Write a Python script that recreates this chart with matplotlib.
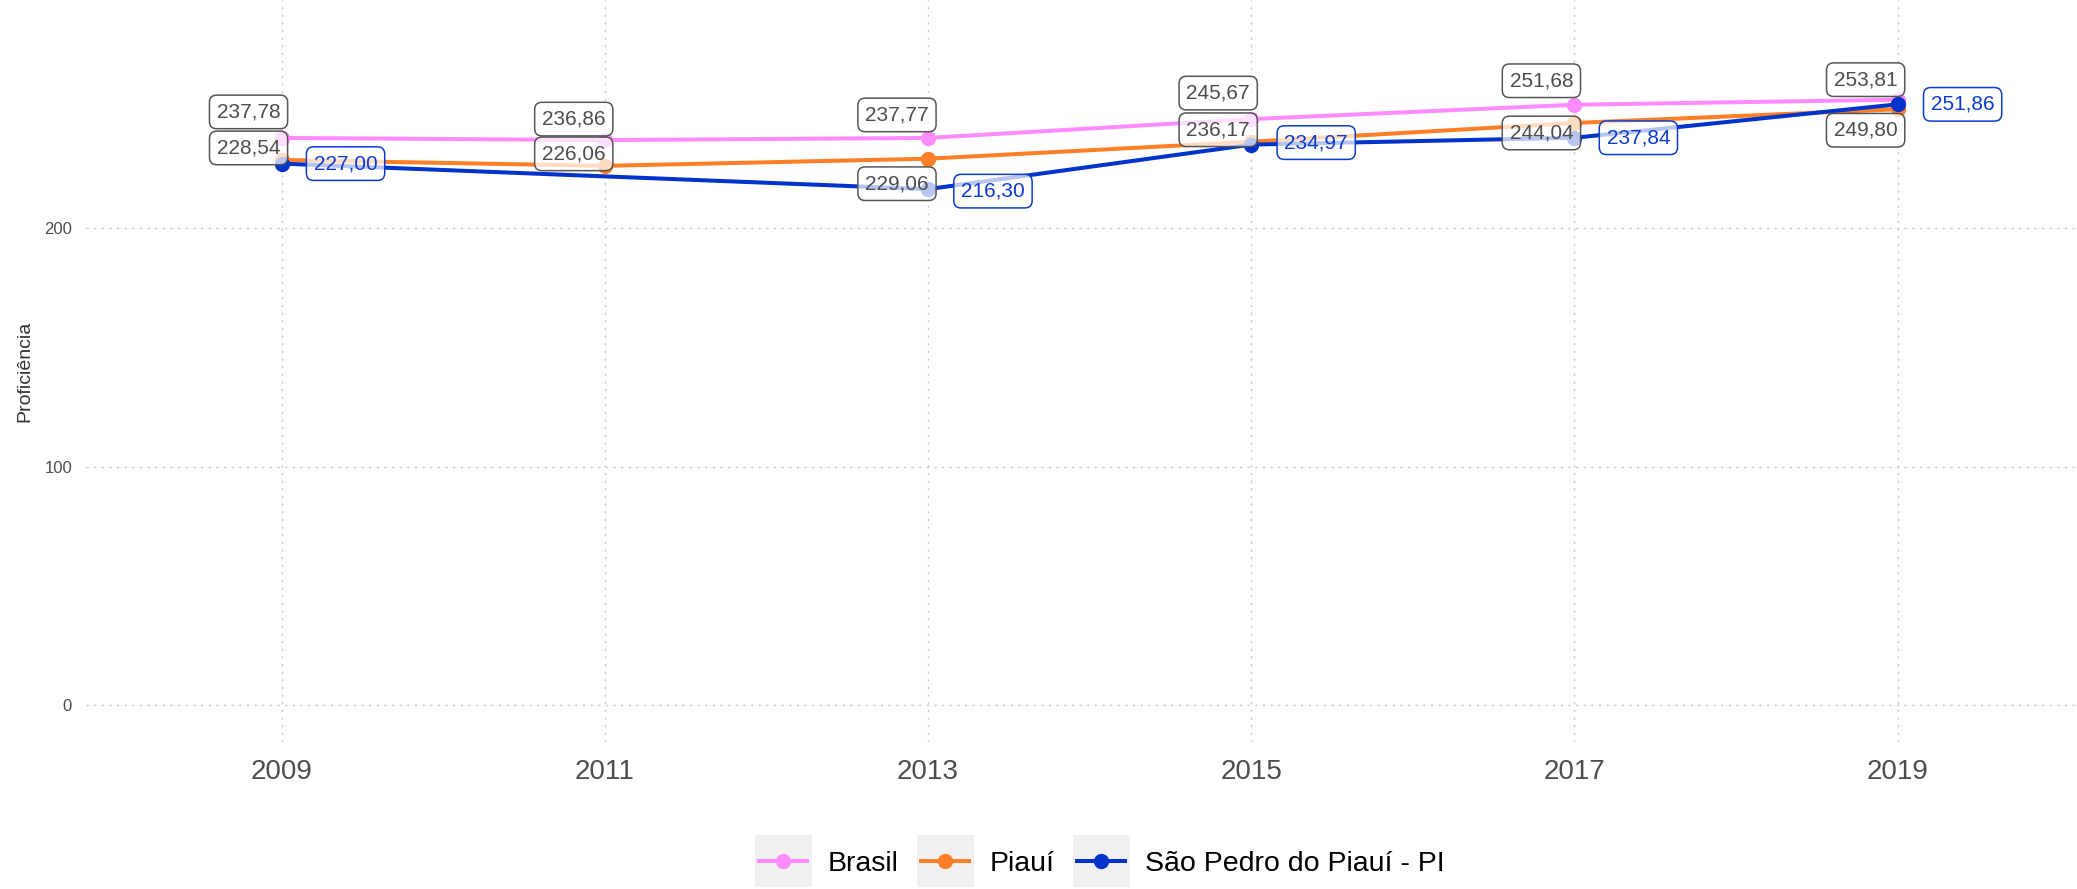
import numpy as np
import matplotlib
matplotlib.use('Agg')
import matplotlib.pyplot as plt

plt.rcParams['font.family'] = ['Liberation Sans', 'DejaVu Sans']

# dados
anos = [2009, 2011, 2013, 2015, 2017, 2019]
brasil = [237.78, 236.86, 237.77, 245.67, 251.68, 253.81]
piaui = [228.54, 226.06, 229.06, 236.17, 244.04, 249.80]
anos_sp = [2009, 2013, 2015, 2017, 2019]
sao_pedro = [227.00, 216.30, 234.97, 237.84, 251.86]

nomes = ['Brasil', 'Piauí', 'São Pedro do Piauí - PI']
cores = ['#ff8cff', '#ff7f27', '#0033cc']

# deslocamento dos rótulos (pixels)
desl_brasil = [(-33, 26), (-31, 21), (-31, 23), (-33, 26), (-33, 24), (-32, 20)]
desl_piaui = [(-33, 12), (-31, 12), (-31, -25), (-33, 12), (-33, -10), (-32, -21)]
desl_sp = [(64, 0), (65, -2), (65, 2), (64, 0), (65, 0)]


def fmt(v):
    return f'{v:.2f}'.replace('.', ',')


fig = plt.figure(figsize=(20.77, 8.89), dpi=100)
ax = fig.add_axes([86 / 2077, (889 - 742) / 889, 1 - 86 / 2077, 742 / 889])

series = [(anos, brasil, desl_brasil), (anos, piaui, desl_piaui), (anos_sp, sao_pedro, desl_sp)]
for i, ((x, y, desl), nome, cor) in enumerate(zip(series, nomes, cores)):
    ax.plot(x, y, color=cor, lw=2.9, marker='o', ms=10, label=nome, zorder=3 + i)

for i, ((x, y, desl), cor) in enumerate(zip(series, cores)):
    txt_cor = '#0d3ccc' if i == 2 else '#4d4d4d'
    borda = '#0d3ccc' if i == 2 else '#555555'
    for xi, yi, (dx, dy) in zip(x, y, desl):
        ax.annotate(fmt(yi), (xi, yi), xytext=(dx, dy), textcoords='offset pixels',
                    ha='center', va='center', fontsize=15, color=txt_cor, zorder=10,
                    bbox=dict(boxstyle='round,pad=0.35,rounding_size=0.35', fc=(1, 1, 1, 0.72),
                              ec=borda, lw=1.1))

ax.set_xlim(2007.79, 2020.11)
ax.set_ylim(-15.5, 295.6)
ax.set_xticks(anos)
ax.set_yticks([0, 100, 200])
ax.grid(True, color='#c8c8c8', linestyle=(0, (1.5, 4)), lw=1.0)
ax.set_axisbelow(True)
for s in ax.spines.values():
    s.set_visible(False)
ax.tick_params(axis='x', length=0, labelsize=20, labelcolor='#4d4d4d', pad=12)
ax.tick_params(axis='y', length=0, labelsize=12, labelcolor='#4d4d4d', pad=10)
ax.set_ylabel('Proficiência', fontsize=14, color='#333333', labelpad=8)

leg = fig.legend(loc='center', bbox_to_anchor=(0.5305, 0.028), ncol=3, frameon=False,
                 fontsize=20.5, handlelength=1.7, handletextpad=0.7, columnspacing=0.8)

# fundo cinza das chaves da legenda
fig.canvas.draw()
r = fig.canvas.get_renderer()
for h in leg.legend_handles:
    bb = h.get_window_extent(r)
    cx, cy = (bb.x0 + bb.x1) / 2, (bb.y0 + bb.y1) / 2
    w, hh = 57, 52
    rect = plt.Rectangle(((cx - w / 2) / fig.bbox.width, (cy - hh / 2) / fig.bbox.height),
                         w / fig.bbox.width, hh / fig.bbox.height, transform=fig.transFigure,
                         fc='#f0f0f0', ec='none', zorder=1)
    fig.patches.append(rect)

fig.savefig('out.png', dpi=100)
